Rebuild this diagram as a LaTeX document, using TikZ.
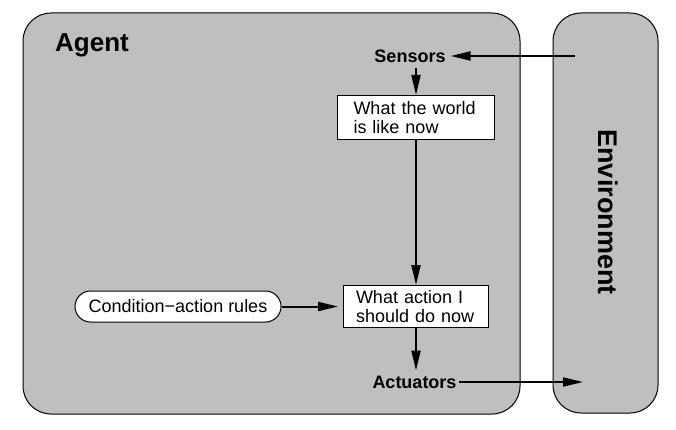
\documentclass[tikz,border=0pt]{standalone}
\usepackage{fontspec}
\setmainfont{Liberation Sans}
\usetikzlibrary{arrows.meta,shapes.misc}
\definecolor{panel}{gray}{0.75}
\begin{document}
\begin{tikzpicture}[x=1pt,y=-1pt,
  panelbox/.style={draw=black,line width=1pt,fill=panel,rounded corners=28pt},
  infobox/.style={draw=black,line width=1pt,fill=white,align=left,
    font=\fontsize{18}{19}\selectfont,inner ysep=3pt},
  rulebox/.style={draw=black,line width=1pt,fill=white,rounded rectangle,
    font=\fontsize{18}{19}\selectfont,minimum width=210pt,minimum height=31pt,inner sep=2pt},
  portlabel/.style={font=\fontsize{18}{19}\selectfont\bfseries,inner sep=5pt},
  flow/.style={line width=2pt,-{Triangle[length=20pt,width=9pt]}}]
\useasboundingbox (0,0) rectangle (676,430);
% agent and environment panels
\draw[panelbox] (23,13) rectangle (520,414);
\draw[panelbox] (553,13) rectangle (658,413);
\node[anchor=base west,inner sep=0pt,font=\fontsize{26}{28}\selectfont\bfseries] (agent) at (55,52) {Agent};
\node[rotate=-90,font=\fontsize{27}{29}\selectfont\bfseries] (env) at (608,212) {Environment};
% internal components
\node[portlabel] (sensors) at (410,56) {Sensors};
\node[infobox,anchor=north west,inner xsep=16pt,text width=125pt,minimum height=44pt] (world) at (337,95)
  {What the world\\is like now};
\node[infobox,anchor=north west,inner xsep=12.5pt,text width=120pt,minimum height=42pt] (action) at (343,285)
  {What action I\\should do now};
\node[rulebox] (rules) at (178,306.5) {Condition−action rules};
\node[portlabel,inner xsep=2pt] (actuators) at (414.5,382) {Actuators};
% percept and action links with the environment
\coordinate (percept) at (575,56);
\coordinate (effect) at (583,382);
% connectors
\draw[flow] (percept) -- (sensors.east);
\draw[flow] (sensors.south -| world.north) -- (world.north);
\draw[flow] (world.south) -- (action.north);
\draw[flow,shorten >=5pt] (rules.east) -- (rules.east -| action.west);
\draw[flow] (action.south) -- (action.south |- actuators.north);
\draw[flow] (actuators.east) -- (effect);
\end{tikzpicture}
\end{document}
